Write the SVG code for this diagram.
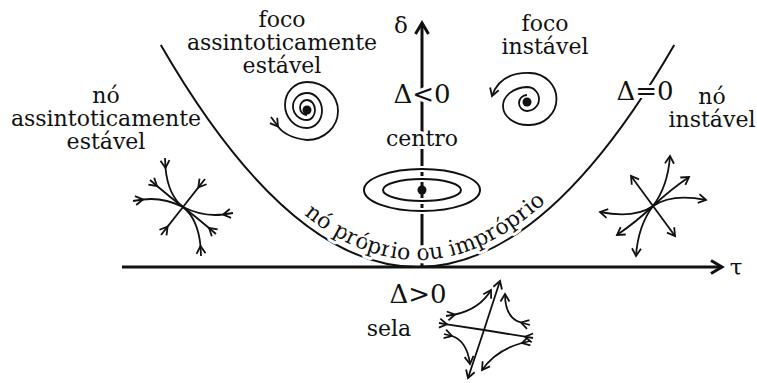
<svg xmlns="http://www.w3.org/2000/svg" width="757" height="383" viewBox="0 0 757 383">
<style>
.ln{fill:none;stroke:#111;stroke-width:2;stroke-linejoin:round}
.sm{fill:none;stroke:#111;stroke-width:1.8;stroke-linejoin:round}
.ax{fill:none;stroke:#111;stroke-width:3}
.t{font-family:"DejaVu Serif",serif;font-size:22px;fill:#111;text-anchor:middle}
.m{font-size:26px}
.halo{paint-order:stroke;stroke:#fff;stroke-width:6;stroke-linejoin:round}
.ell{fill:none;stroke:#111;stroke-width:2}
.ellh{fill:none;stroke:#fff;stroke-width:6}
</style>
<defs>
<marker id="ah" markerUnits="userSpaceOnUse" viewBox="-15 -10 20 20" markerWidth="20" markerHeight="20" refX="0" refY="0" orient="auto" overflow="visible"><path d="M-11,-6.5 L0,0 L-11,6.5" fill="none" stroke="#111" stroke-width="3"/></marker>
<marker id="ch" markerUnits="userSpaceOnUse" viewBox="-10 -10 20 20" markerWidth="20" markerHeight="20" refX="0" refY="0" orient="auto" overflow="visible"><path d="M-7.5,-4.5 L0,0 L-7.5,4.5" fill="none" stroke="#111" stroke-width="1.8"/></marker>
<path id="arc" d="M237.5,146 Q417.5,374 597.5,146"/>
</defs>
<rect width="757" height="383" fill="#fff"/>

<g id="connectors">
<path class="ax" d="M122,267 L722,267" marker-end="url(#ah)"/>
<path class="ax" d="M422,267 L422,23" marker-end="url(#ah)"/>
<path id="parabola" class="ln" d="M160.8,45 Q417.5,489 674.2,45"/>
</g>

<g id="centro-ellipses">
<ellipse class="ellh" cx="422" cy="190" rx="58" ry="21"/>
<ellipse class="ellh" cx="422" cy="190" rx="39" ry="11"/>
<ellipse class="ell" cx="422" cy="190" rx="58" ry="21"/>
<ellipse class="ell" cx="422" cy="190" rx="39" ry="11"/>
<circle cx="422" cy="190" r="4.5" fill="#111"/>
</g>

<g id="labels">
<text class="t" x="401" y="33" style="font-size:23px">δ</text>
<text class="t" x="736" y="275" style="font-size:23px">τ</text>
<text class="t m halo" x="422" y="103">Δ&lt;0</text>
<text class="t m halo" x="645" y="100">Δ=0</text>
<text class="t m" x="418" y="303">Δ&gt;0</text>
<text class="t halo" x="422" y="146">centro</text>
<text class="t halo"><textPath href="#arc" startOffset="230">nó próprio ou impróprio</textPath></text>
</g>

<g id="foco-estavel">
<text class="t" x="282" y="27">foco</text>
<text class="t" x="282" y="50">assintoticamente</text>
<text class="t" x="282" y="73">estável</text>
<path class="sm" d="M271,117 L278,126.5 Q286,137.5 307,140" marker-mid="url(#ch)"/>
<path class="sm" d="M307,140 A31,29 0 0 0 307,82 A22,23 0 0 0 307,128 A15,17.5 0 0 0 307,93 A14,13.5 0 0 0 307,120 A8,10 0 0 0 307,100 A7,7.5 0 0 0 307,115"/>
<circle cx="307" cy="110" r="4.5" fill="#111"/>
</g>

<g id="foco-instavel">
<text class="t" x="545" y="31">foco</text>
<text class="t" x="545" y="54">instável</text>
<path class="sm" d="M527,95 A8,8 0 0 0 527,111 A12,12 0 0 0 527,87 A25,19 0 0 0 529,125 A27,26 0 0 0 530,73 Q500,72 492,96" marker-end="url(#ch)"/>
<circle cx="527" cy="102" r="4.5" fill="#111"/>
</g>

<g id="no-estavel">
<text class="t" x="106" y="103">nó</text>
<text class="t" x="106" y="126">assintoticamente</text>
<text class="t" x="106" y="149">estável</text>
<g class="sm" marker-mid="url(#ch)">
<path d="M165,158 L165.5,168 Q168,195 183,207"/>
<path d="M150,180 L157,186 Q170,197 183,207"/>
<path d="M133,201 L143,199.5 Q163,197 183,207"/>
<path d="M201,256 L200.5,246 Q198,219 183,207"/>
<path d="M216,234 L209,228 Q196,217 183,207"/>
<path d="M233,213 L223,214.5 Q203,217 183,207"/>
<path d="M205,179 L198.4,187.4 L183,207"/>
<path d="M161,235 L167.6,226.6 L183,207"/>
</g>
</g>

<g id="no-instavel">
<text class="t" x="712" y="104">nó</text>
<text class="t" x="712" y="127">instável</text>
<g class="sm" marker-end="url(#ch)">
<path d="M653,206 Q668,186 670,156"/>
<path d="M653,206 Q670,190 689,177"/>
<path d="M653,206 Q672,193 706,200"/>
<path d="M653,206 Q638,226 636,256"/>
<path d="M653,206 Q636,222 617,235"/>
<path d="M653,206 Q634,219 600,212"/>
<path d="M653,206 L631,176"/>
<path d="M653,206 L675,236"/>
</g>
</g>

<g id="sela">
<text class="t" x="389" y="336">sela</text>
<g class="sm">
<path d="M439,323 L447,324.3 L484,330" marker-mid="url(#ch)"/>
<path d="M533,338 L525,336.7 L484,330" marker-mid="url(#ch)"/>
<path d="M484,330 L500,281" marker-end="url(#ch)"/>
<path d="M484,330 L468,378" marker-end="url(#ch)"/>
<path d="M446,316 L455,314.5 Q480,309 491,290" marker-mid="url(#ch)" marker-end="url(#ch)"/>
<path d="M530,325 L521,322.5 Q505,318 505,294" marker-mid="url(#ch)" marker-end="url(#ch)"/>
<path d="M444,334 L452,336 Q467,341 470,364" marker-mid="url(#ch)" marker-end="url(#ch)"/>
<path d="M530,341 L522,343 Q496,350 482,370" marker-mid="url(#ch)" marker-end="url(#ch)"/>
</g>
</g>
</svg>
